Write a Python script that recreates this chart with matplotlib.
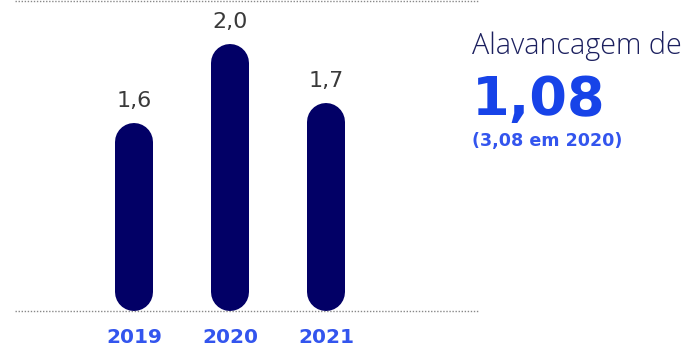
import matplotlib
matplotlib.use("Agg")
import matplotlib.pyplot as plt

years = ["2019", "2020", "2021"]
values = [1.6, 2.0, 1.7]
value_labels = ["1,6", "2,0", "1,7"]
headline = "Alavancagem de"
big_value = "1,08"
sub_value = "(3,08 em 2020)"

W, H = 685, 351
fig = plt.figure(figsize=(W / 100, H / 100), dpi=100)

ax_left, ax_right, ax_top, ax_bottom = 15, 478, 1, 311
ax = fig.add_axes([ax_left / W, (H - ax_bottom) / H,
                   (ax_right - ax_left) / W, (ax_bottom - ax_top) / H])

# scales
px_per_unit_y = 197.1
base = 0.645
ax.set_ylim(base, base + (ax_bottom - ax_top) / px_per_unit_y)
spacing = 96.0
x0 = -(134 - ax_left) / spacing
ax.set_xlim(x0, x0 + (ax_right - ax_left) / spacing)

bar_px = 38
r = (bar_px / 2) / px_per_unit_y
lw_pt = bar_px * 72 / 100
for i, v in enumerate(values):
    ax.plot([i, i], [base + r, v - r], color="#020066", lw=lw_pt,
            solid_capstyle="round", zorder=3)
    ax.annotate(value_labels[i], (i, v), xytext=(0, 16), textcoords="offset pixels",
                ha="center", va="baseline", fontsize=16, color="#3a3a3a",
                family="DejaVu Sans")

ax.axhline(ax.get_ylim()[1], color="#888888", lw=1, ls=(0, (1, 1.2)), clip_on=False)
ax.axhline(ax.get_ylim()[0], color="#888888", lw=1, ls=(0, (1, 1.2)), clip_on=False)

ax.set_xticks(range(len(years)))
ax.set_xticklabels(years, fontsize=14.5, fontweight="bold", color="#3355ee",
                   family="DejaVu Sans")
ax.tick_params(axis="x", length=0, pad=12)
ax.set_yticks([])
for s in ax.spines.values():
    s.set_visible(False)

fig.text(472 / W, 1 - 54 / H, headline, fontsize=20.7, fontweight="light",
         color="#1b1f5e", family="Open Sans", ha="left", va="baseline")
fig.text(472 / W, 1 - 115 / H, big_value, fontsize=39, fontweight="bold",
         color="#1743e8", family="DejaVu Sans", ha="left", va="baseline")
fig.text(472 / W, 1 - 146 / H, sub_value, fontsize=12.6, fontweight="bold",
         color="#3355ee", family="DejaVu Sans", ha="left", va="baseline")

fig.savefig("out.png", dpi=100)
